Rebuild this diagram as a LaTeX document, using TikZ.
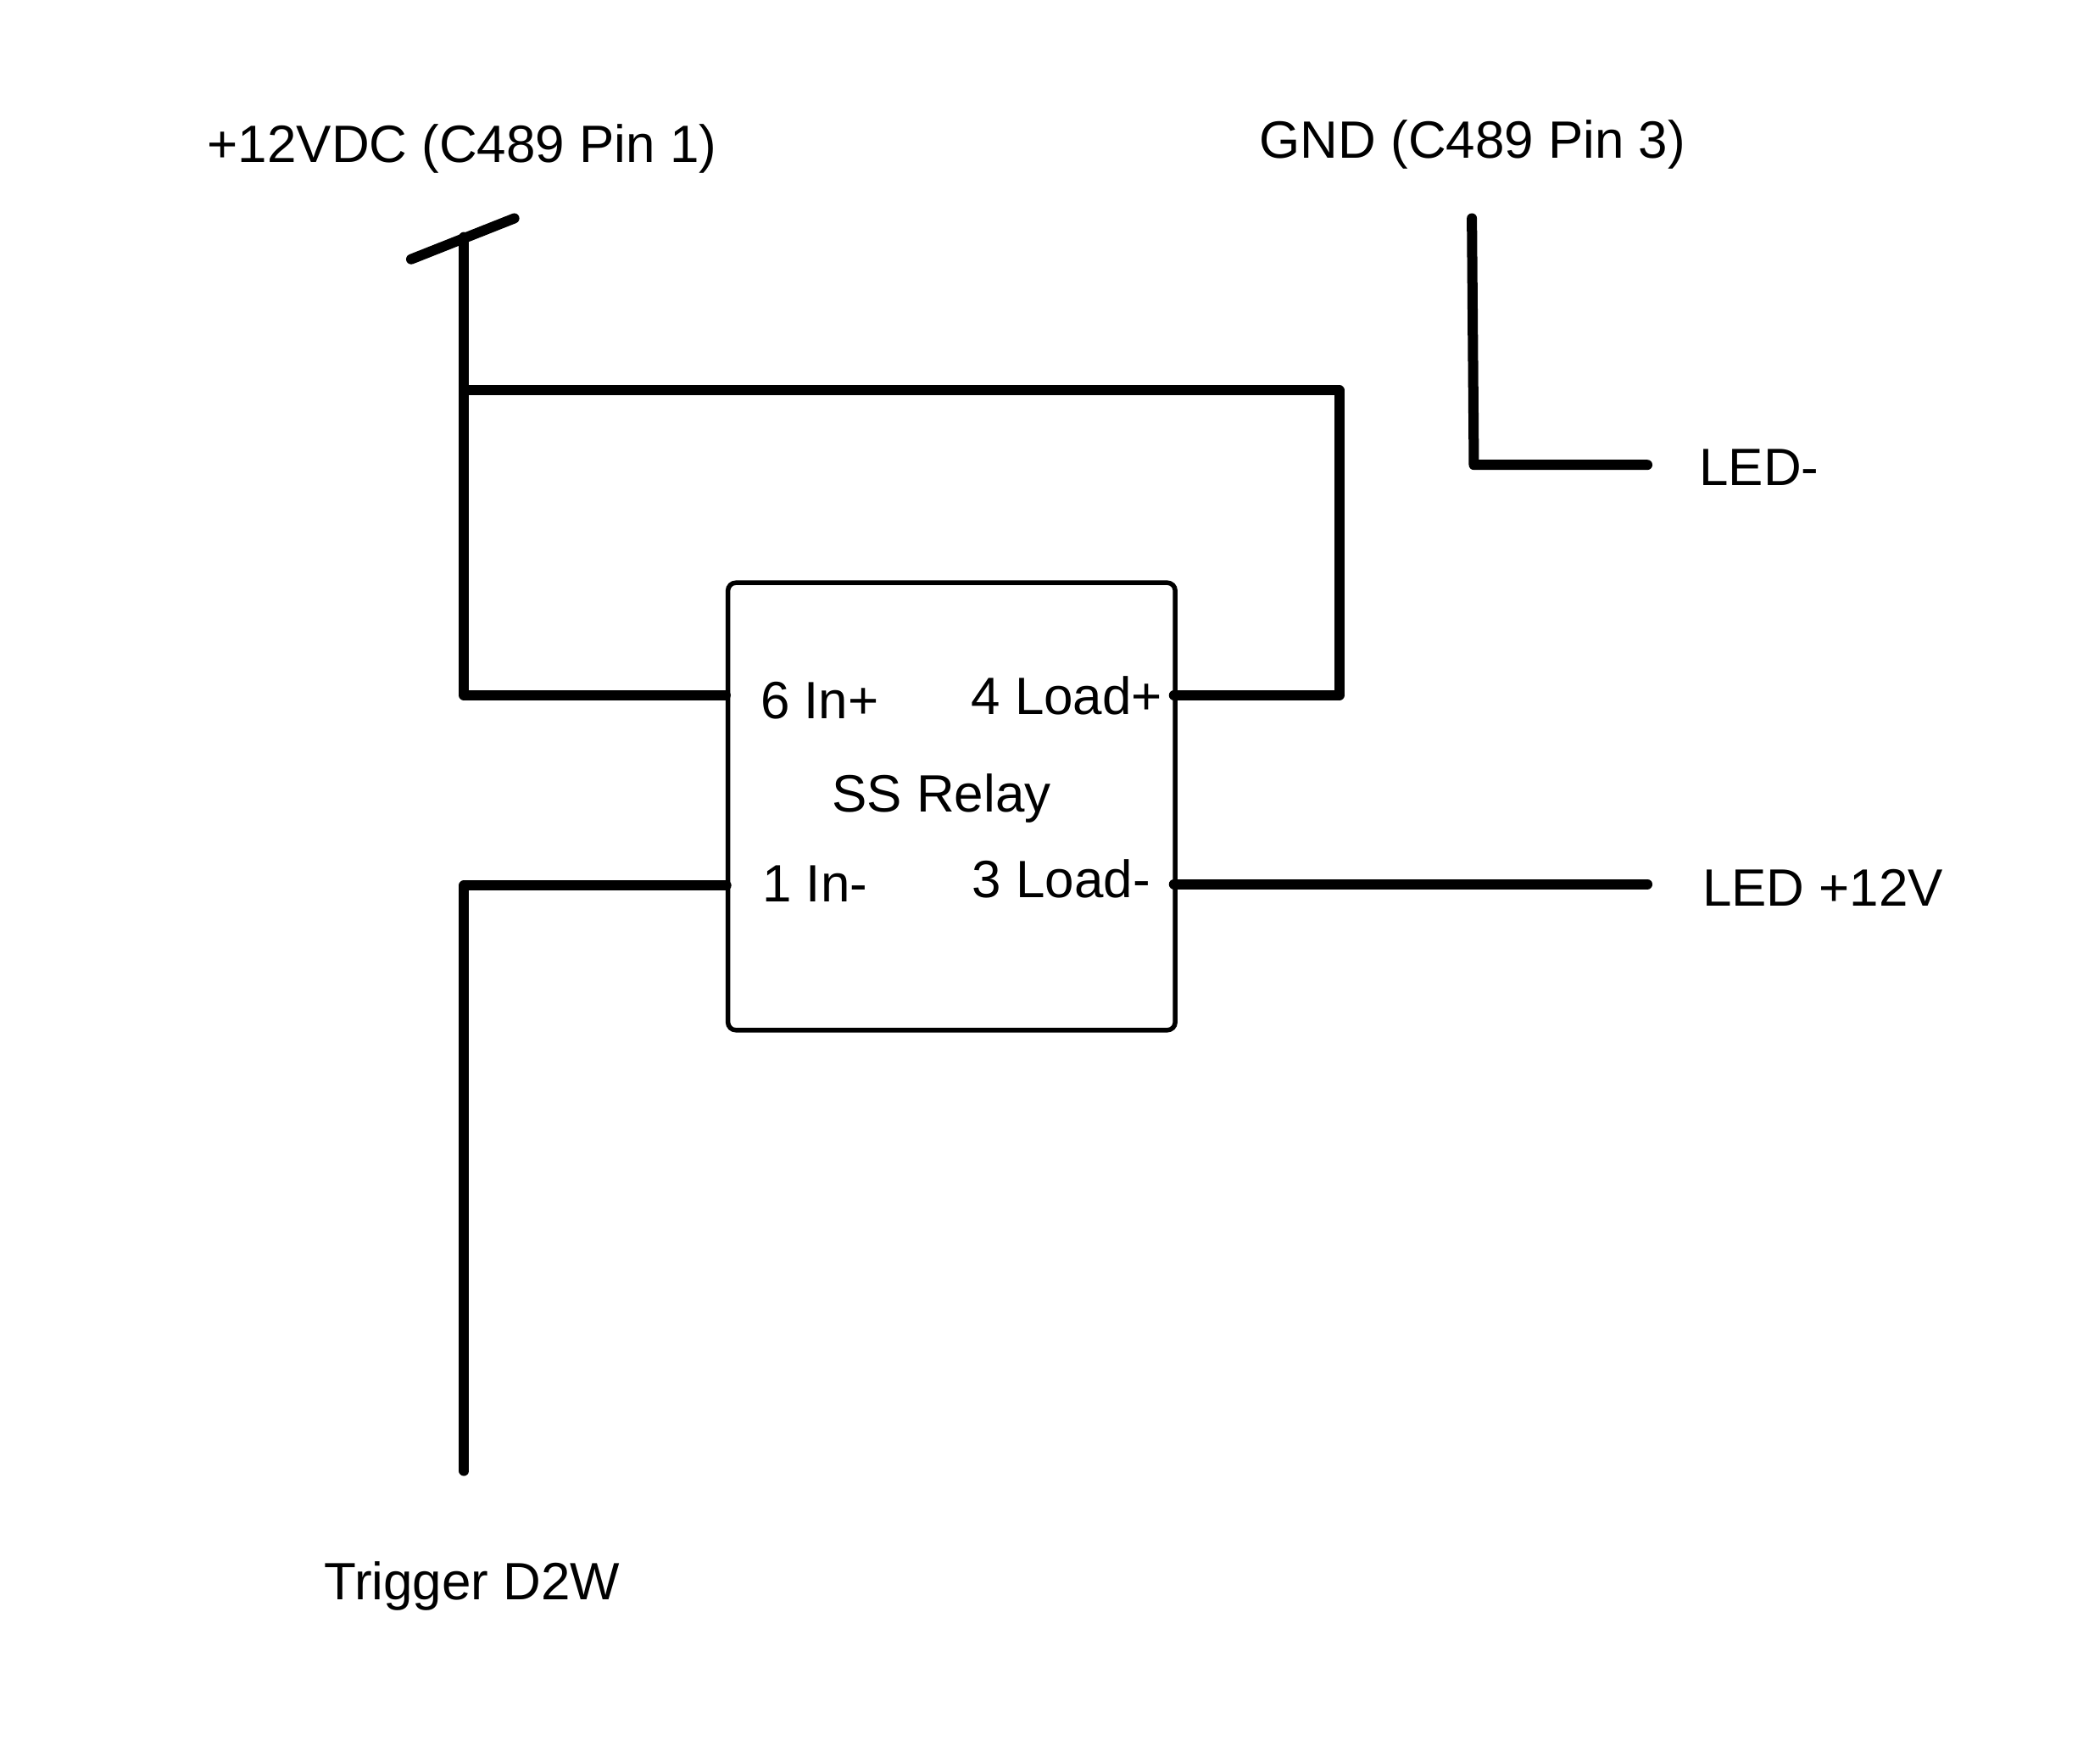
\documentclass[tikz,border=0pt]{standalone}
\usepackage{fontspec}
\setmainfont{Liberation Sans}
\tikzset{
  wire/.style={line width=5.7pt,line cap=round,line join=round,black},
  relaybox/.style={draw,line width=2.6pt,rounded corners=4.5pt,minimum width=250.5pt,minimum height=250.5pt,inner sep=0pt},
  lbl/.style={font=\fontsize{29.4}{31}\selectfont,inner sep=0pt,anchor=center}
}
\begin{document}
\begin{tikzpicture}[x=0.75pt,y=-0.75pt]
\useasboundingbox (0,0) rectangle (1568,1302.8);
\fill[white] (0,0) rectangle (1568,1302.8);
\node[relaybox] (relay) at (710.5,602) {};
\coordinate (top) at (346.5,177);
\coordinate (tickL) at (307,193.5);
\coordinate (tickR) at (384,163);
\coordinate (busL) at (346.5,291.5);
\coordinate (busR) at (1000,291.5);
\coordinate (in6L) at (346.5,519);
\coordinate (in6R) at (relay.west |- in6L);
\coordinate (load4R) at (1000,519);
\coordinate (load4L) at ([xshift=-2pt]relay.east |- load4R);
\coordinate (in1L) at (346.5,661);
\coordinate (in1R) at ([xshift=0.4pt]relay.west |- in1L);
\coordinate (trig) at (346.5,1098);
\coordinate (load3R) at (1230,660);
\coordinate (load3L) at ([xshift=-2pt]relay.east |- load3R);
\coordinate (gndT) at (1099,163);
\coordinate (gndC) at (1100.5,347);
\coordinate (gndR) at (1230,347);
\draw[wire] (tickL) -- (tickR);
\draw[wire] (top) -- (in6L) -- (in6R);
\draw[wire] (busL) -- (busR) -- (load4R) -- (load4L);
\draw[wire] (trig) -- (in1L) -- (in1R);
\draw[wire] (load3L) -- (load3R);
\draw[wire] (gndT) -- (gndC) -- (gndR);
\node[lbl] (vcc) at (345,111) {+12VDC (C489 Pin 1)};
\node[lbl] (gnd) at (1099.5,108) {GND (C489 Pin 3)};
\node[lbl] (ledm) at (1313.5,349) {LED-};
\node[lbl] (ledp) at (1361,663) {LED +12V};
\node[lbl] (trigl) at (352.5,1184) {Trigger D2W};
\node[lbl] (p6) at (612,523) {6 In+};
\node[lbl] (p4) at (796.5,519) {4 Load+};
\node[lbl] (ss) at (703,596) {SS Relay};
\node[lbl] (p1) at (608.5,660) {1 In-};
\node[lbl] (p3) at (792.5,656) {3 Load-};
\end{tikzpicture}
\end{document}
